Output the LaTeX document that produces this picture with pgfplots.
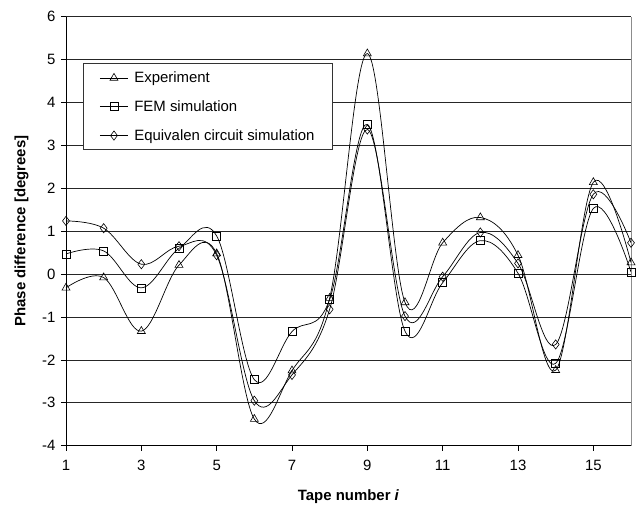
\documentclass[border=0pt]{standalone}
\usepackage{pgfplots}
\pgfplotsset{compat=1.18}
\usepackage{fontspec}
\setmainfont{Liberation Sans}
\begin{document}
\begin{tikzpicture}
\begin{axis}[
  scale only axis, width=565bp, height=429bp,
  xmin=1, xmax=16, ymin=-4, ymax=6,
  xtick={1,3,...,15}, ytick={-4,-3,...,6},
  tick align=outside, major tick length=5bp,
  tick style={black, line width=0.7bp},
  axis x line*=bottom, axis y line*=left,
  axis line style={black, line width=0.8bp},
  ymajorgrids, grid style={black!85, line width=0.6bp},
  /pgf/number format/assume math mode=true,
  ticklabel style={font=\fontsize{15}{18}\selectfont},
  xticklabel style={yshift=-6bp},
  yticklabel style={xshift=-2bp},
  xlabel={\textbf{Tape number \textit{i}}},
  ylabel={\textbf{Phase difference [degrees]}},
  label style={font=\fontsize{15}{18}\selectfont},
  xlabel style={at={([yshift=-51bp]axis description cs:0.5,0)}, anchor=center},
  ylabel style={at={([xshift=-44.5bp]axis description cs:0,0.5)}, anchor=center},
  legend style={at={(axis description cs:0.0306,0.891)}, anchor=north west,
    draw=black!80, line width=0.7bp, font=\fontsize{15}{18}\selectfont,
    row sep=12.5bp, inner xsep=16bp, inner ysep=6bp},
  legend cell align=left,
  legend image code/.code={\draw[mark repeat=2, mark phase=2, #1] plot coordinates {(0bp,0bp) (14bp,0bp) (28bp,0bp)};
    \path (0bp,0bp) (32bp,0bp);},
  every axis plot/.append style={black, line width=0.7bp, smooth, tension=0.6, mark options={fill=white, solid, line width=0.6bp}},
  clip=false,
]
\addplot[mark=triangle, mark size=4.6bp] coordinates {
(1,-0.32) (2,-0.08) (3,-1.33) (4,0.21) (5,0.48) (6,-3.38) (7,-2.25) (8,-0.56)
(9,5.14) (10,-0.66) (11,0.73) (12,1.32) (13,0.44) (14,-2.24) (15,2.14) (16,0.27)};
\addlegendentry{Experiment}
\addplot[mark=square, mark size=4bp] coordinates {
(1,0.47) (2,0.54) (3,-0.32) (4,0.60) (5,0.89) (6,-2.46) (7,-1.34) (8,-0.59)
(9,3.49) (10,-1.33) (11,-0.20) (12,0.78) (13,0.02) (14,-2.08) (15,1.53) (16,0.05)};
\addlegendentry{FEM simulation}
\addplot[mark=diamond, mark size=4.6bp] coordinates {
(1,1.24) (2,1.07) (3,0.23) (4,0.65) (5,0.44) (6,-2.95) (7,-2.35) (8,-0.82)
(9,3.37) (10,-0.98) (11,-0.06) (12,0.97) (13,0.25) (14,-1.64) (15,1.86) (16,0.73)};
\addlegendentry{Equivalen circuit simulation}
\draw[black!45, line width=0.8bp] (rel axis cs:1,0) -- (rel axis cs:1,1);
\path (rel axis cs:0,0) ++(-66bp,-60.3bp) (rel axis cs:1,1) ++(5bp,16.7bp);
\end{axis}
\end{tikzpicture}
\end{document}
